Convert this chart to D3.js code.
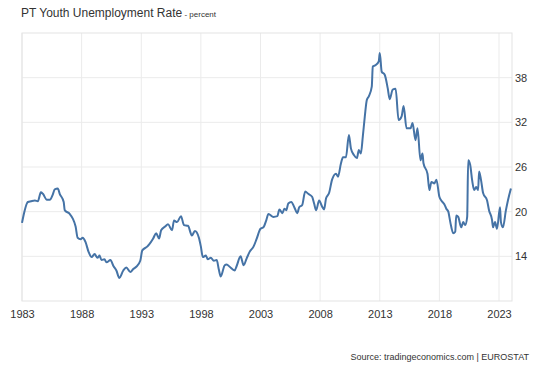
<!DOCTYPE html>
<html><head><meta charset="utf-8">
<script src="https://cdn.jsdelivr.net/npm/d3@7"></script>
<style>body{margin:0;background:#fff}svg{display:block;font-family:"Liberation Sans",Arial,sans-serif}</style>
</head><body><svg id="c" width="540" height="369"></svg>
<script>
const dates = ["1983-01","1983-07","1983-10","1984-02","1984-05","1984-08","1984-10","1985-02","1985-05","1985-08","1985-10","1986-01","1986-03","1986-07","1986-08","1987-01","1987-04","1987-07","1987-09","1987-12","1988-02","1988-05","1988-08","1988-11","1989-02","1989-05","1989-07","1989-09","1989-12","1990-02","1990-06","1990-09","1990-12","1991-03","1991-07","1991-10","1992-02","1992-05","1992-08","1992-12","1993-02","1993-07","1993-09","1994-01","1994-04","1994-07","1994-09","1995-01","1995-04","1995-08","1995-10","1996-01","1996-05","1996-08","1996-12","1997-04","1997-07","1997-11","1998-01","1998-03","1998-06","1998-08","1998-11","1999-02","1999-05","1999-07","1999-09","2000-01","2000-03","2000-06","2000-11","2001-01","2001-05","2001-08","2001-11","2002-02","2002-06","2002-09","2003-01","2003-04","2003-07","2003-09","2004-02","2004-06","2004-08","2004-11","2005-01","2005-03","2005-05","2005-08","2005-11","2006-02","2006-04","2006-07","2006-10","2007-01","2007-05","2007-07","2007-09","2007-12","2008-03","2008-05","2008-07","2008-10","2009-01","2009-05","2009-07","2009-10","2009-12","2010-03","2010-06","2010-08","2010-11","2011-02","2011-04","2011-06","2011-08","2011-10","2011-12","2012-02","2012-05","2012-06","2012-09","2012-12","2013-01","2013-03","2013-06","2013-09","2013-11","2014-02","2014-05","2014-08","2014-11","2015-01","2015-04","2015-08","2015-10","2016-01","2016-03","2016-06","2016-08","2016-09","2017-01","2017-03","2017-05","2017-08","2017-10","2018-01","2018-03","2018-06","2018-08","2018-10","2018-12","2019-03","2019-05","2019-06","2019-08","2019-11","2020-01","2020-03","2020-05","2020-06","2020-08","2020-10","2020-12","2021-02","2021-04","2021-05","2021-07","2021-09","2022-01","2022-03","2022-06","2022-07","2022-09","2022-11","2023-02","2023-03","2023-05","2023-08","2023-10","2024-01"];
const values = [18.5,21.3,21.4,21.5,21.4,22.6,22.4,21.6,21.6,22.3,23.0,23.1,22.4,21.3,20.2,19.7,19.1,18.0,16.5,16.3,16.5,15.9,14.6,13.9,14.3,13.8,14.1,13.5,13.6,13.2,13.5,12.7,12.1,11.1,12.1,12.5,11.9,12.3,12.6,13.4,14.8,15.3,15.6,16.4,17.1,16.4,17.5,18.0,18.3,17.5,18.8,18.6,19.4,18.2,18.1,16.8,17.4,16.5,15.3,13.9,14.1,13.6,13.8,13.4,13.5,12.3,11.3,12.8,12.9,12.6,12.1,12.7,14.0,12.8,13.7,14.6,15.3,16.3,17.7,17.9,18.9,19.7,19.3,19.4,20.3,19.8,20.4,20.2,21.1,21.3,20.6,19.8,20.6,20.9,22.7,22.4,22.0,21.1,20.2,21.5,20.7,20.3,21.8,22.5,24.3,25.1,24.7,26.5,27.3,27.3,30.3,28.5,27.6,27.2,28.3,27.8,30.1,32.8,35.0,35.5,36.8,39.5,39.7,40.2,41.3,38.8,38.4,36.6,35.1,36.4,36.5,32.3,32.8,34.2,31.2,31.2,31.9,29.6,31.2,26.9,27.8,26.5,25.1,22.9,24.0,23.8,24.3,22.0,21.5,21.0,20.4,20.0,18.6,17.1,17.3,19.5,19.3,17.9,18.6,18.2,19.3,26.9,26.3,24.2,22.9,23.3,22.9,25.4,24.2,22.5,21.5,20.2,18.9,17.9,18.6,17.7,20.6,18.6,17.9,20.2,21.5,23.1];
const xTickYears = [1983,1988,1993,1998,2003,2008,2013,2018,2023];
const yTicks = [14,20,26,32,38];
const title = "PT Youth Unemployment Rate";
const subtitle = " - percent";
const source = "Source: tradingeconomics.com | EUROSTAT";

const svg = d3.select("#c");
const L = 22, R = 512, T = 33, B = 301;
const parse = d3.timeParse("%Y-%m");
const data = dates.map((d,i)=>({d:parse(d), v:values[i]}));
const x = d3.scaleTime().domain([new Date(1983,0,1), new Date(2024,1,3)]).range([L,R]);
const y = d3.scaleLinear().domain([8,44]).range([B,T]);
const grid = "#ebebeb";

// gridlines
svg.append("g").selectAll("line.v").data(xTickYears).join("line")
  .attr("x1",d=>x(new Date(d,0,1))).attr("x2",d=>x(new Date(d,0,1)))
  .attr("y1",T).attr("y2",B).attr("stroke",grid).attr("stroke-width",1);
svg.append("g").selectAll("line.h").data(yTicks).join("line")
  .attr("x1",L).attr("x2",R).attr("y1",d=>y(d)).attr("y2",d=>y(d))
  .attr("stroke",grid).attr("stroke-width",1);
svg.append("rect").attr("x",L).attr("y",T).attr("width",R-L).attr("height",B-T)
  .attr("fill","none").attr("stroke","#e3e3e3");

// axes
const xAxis = d3.axisBottom(x).tickValues(xTickYears.map(d=>new Date(d,0,1)))
  .tickFormat(d3.timeFormat("%Y")).tickSize(0).tickPadding(9);
const gx = svg.append("g").attr("transform",`translate(0,${B})`).call(xAxis);
gx.select(".domain").remove();
gx.selectAll("text").attr("font-size",11).attr("fill","#333").attr("font-family","Liberation Sans, Arial");

const yAxis = d3.axisRight(y).tickValues(yTicks).tickSize(0).tickPadding(4);
const gy = svg.append("g").attr("transform",`translate(${R-1},0)`).call(yAxis);
gy.select(".domain").remove();
gy.selectAll("text").attr("font-size",11).attr("fill","#333").attr("font-family","Liberation Sans, Arial");

// line
svg.append("path").datum(data)
  .attr("fill","none").attr("stroke","#4573a6").attr("stroke-width",2)
  .attr("stroke-linejoin","round")
  .attr("d", d3.line().x(d=>x(d.d)).y(d=>y(d.v)).curve(d3.curveMonotoneX));

// title
const t = svg.append("text").attr("x",21).attr("y",17).attr("fill","#333").attr("font-size",12);
t.append("tspan").text(title);
t.append("tspan").attr("font-size",8).text(subtitle);

svg.append("text").attr("x",529).attr("y",360).attr("text-anchor","end")
  .attr("font-size",9).attr("fill","#333").text(source);
</script></body></html>
